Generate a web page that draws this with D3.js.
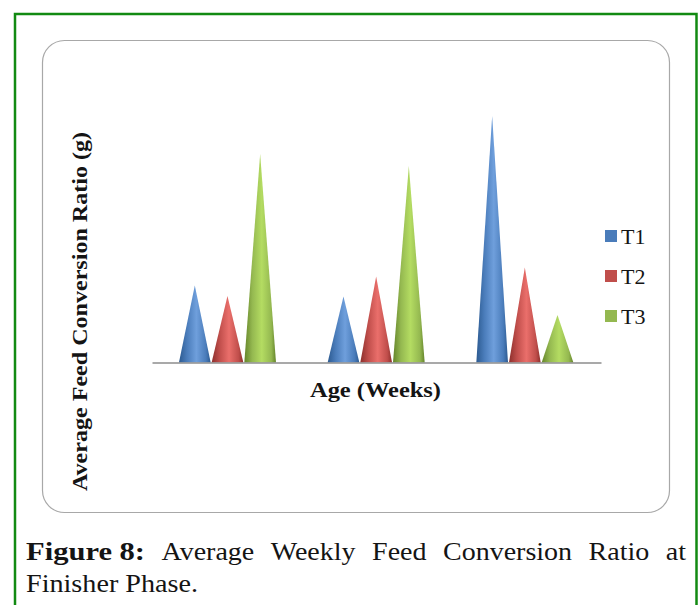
<!DOCTYPE html>
<html>
<head>
<meta charset="utf-8">
<script src="https://cdn.jsdelivr.net/npm/d3@7"></script>
<style>
body { margin: 0; background: #fff; }
svg { display: block; }
text { font-family: "Liberation Serif", serif; fill: #141414; }
</style>
</head>
<body>
<svg width="699" height="605"></svg>
<script>
const weeks = ["Week 1", "Week 2", "Week 3"];
const seriesNames = ["T1", "T2", "T3"];
const t1 = [1.54, 1.32, 4.93];
const t2 = [1.33, 1.72, 1.9];
const t3 = [4.17, 3.93, 0.95];
const seriesValues = [t1, t2, t3];

const colors = [
    { dark: "#2c5a90", mid: "#4a7cba", light: "#6f9fdc" },
    { dark: "#8c2f2c", mid: "#c04e4b", light: "#ea6f6b" },
    { dark: "#64842a", mid: "#94b850", light: "#b4dc62" }
];

const svg = d3.select("svg");
const defs = svg.append("defs");

colors.forEach((c, i) => {
    const grad = defs.append("linearGradient").attr("id", "cone" + i);
    grad.append("stop").attr("offset", "0%").attr("stop-color", c.dark);
    grad.append("stop").attr("offset", "25%").attr("stop-color", c.mid);
    grad.append("stop").attr("offset", "55%").attr("stop-color", c.light);
    grad.append("stop").attr("offset", "85%").attr("stop-color", c.mid);
    grad.append("stop").attr("offset", "100%").attr("stop-color", c.dark);
});

// page frame, open at the bottom
svg.append("path")
    .attr("d", "M15,605V14H696.5V605")
    .attr("fill", "none")
    .attr("stroke", "#128a12")
    .attr("stroke-width", 2.5);

// chart card
svg.append("rect")
    .attr("x", 42.5)
    .attr("y", 40.5)
    .attr("width", 627)
    .attr("height", 472)
    .attr("rx", 22)
    .attr("fill", "#fff")
    .attr("stroke", "#a8a8a8")
    .attr("stroke-width", 1.2);

const x0 = d3.scaleBand().domain(weeks).range([152, 601]).paddingOuter(0.01);
const x1 = d3.scaleBand().domain(seriesNames).range([24.5, 123.5]).padding(0.03);
const y = d3.scaleLinear().domain([0, 5]).range([362.5, 112.5]);

const groups = svg.append("g")
    .selectAll("g")
    .data(weeks)
    .enter().append("g")
    .attr("transform", d => `translate(${x0(d)},0)`);

groups.selectAll("path")
    .data((d, w) => seriesNames.map((name, s) => ({ name, s, value: seriesValues[s][w] })))
    .enter().append("path")
    .attr("fill", d => `url(#cone${d.s})`)
    .attr("d", d => {
        const p = d3.path();
        const left = x1(d.name);
        p.moveTo(left, y(0));
        p.lineTo(left + x1.bandwidth() / 2, y(d.value));
        p.lineTo(left + x1.bandwidth(), y(0));
        p.closePath();
        return p.toString();
    });

// baseline
svg.append("g")
    .attr("transform", `translate(0,${y(0)})`)
    .call(d3.axisBottom(x0).tickSize(0).tickFormat(""))
    .call(g => g.select(".domain").attr("stroke", "#8c8c8c").attr("stroke-width", 1.5));

// Cambria-like widths, so the serif is stretched to the measured length
svg.append("text")
    .attr("x", 375.5)
    .attr("y", 397)
    .attr("text-anchor", "middle")
    .attr("font-size", 22)
    .attr("font-weight", "bold")
    .attr("textLength", 131)
    .attr("lengthAdjust", "spacingAndGlyphs")
    .text("Age (Weeks)");

svg.append("text")
    .attr("transform", "translate(87,311.5) rotate(-90)")
    .attr("text-anchor", "middle")
    .attr("font-size", 22)
    .attr("font-weight", "bold")
    .attr("textLength", 359)
    .attr("lengthAdjust", "spacingAndGlyphs")
    .text("Average Feed Conversion Ratio (g)");

// legend
const legendY = d3.scalePoint().domain(seriesNames).range([236, 316]);
const legend = svg.append("g")
    .selectAll("g")
    .data(seriesNames)
    .enter().append("g")
    .attr("transform", d => `translate(605,${legendY(d)})`);

legend.append("rect")
    .attr("x", 0)
    .attr("y", -6)
    .attr("width", 12)
    .attr("height", 12)
    .attr("fill", (d, i) => colors[i].mid);

legend.append("text")
    .attr("x", 16)
    .attr("y", 7.5)
    .attr("font-size", 22)
    .text(d => d);

// caption, first line is justified by hand
const captionWords = ["Average", "Weekly", "Feed", "Conversion", "Ratio", "at"];
const caption = svg.append("g").attr("font-size", 25);
const lead = caption.append("text")
    .attr("x", 26)
    .attr("y", 560)
    .attr("font-weight", "bold")
    .text("Figure 8:");
const words = caption.selectAll(".word")
    .data(captionWords)
    .enter().append("text")
    .attr("class", "word")
    .attr("y", 560)
    .text(d => d);

const leadWidth = 119;
lead.attr("textLength", leadWidth).attr("lengthAdjust", "spacingAndGlyphs");
const wordWidths = words.nodes().map(n => n.getComputedTextLength() * 1.12);
const gap = (686 - 26 - leadWidth - d3.sum(wordWidths)) / captionWords.length;
let cursor = 26 + leadWidth + gap;
words.each(function (d, i) {
    d3.select(this)
        .attr("x", cursor)
        .attr("textLength", wordWidths[i])
        .attr("lengthAdjust", "spacingAndGlyphs");
    cursor += wordWidths[i] + gap;
});

caption.append("text")
    .attr("x", 26)
    .attr("y", 592)
    .attr("textLength", 172)
    .attr("lengthAdjust", "spacingAndGlyphs")
    .text("Finisher Phase.");
</script>
</body>
</html>
